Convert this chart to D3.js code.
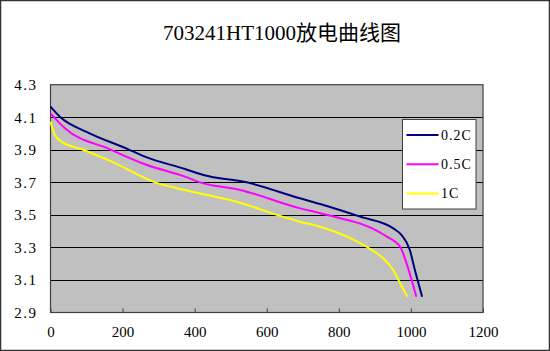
<!DOCTYPE html>
<html>
<head>
<meta charset="utf-8">
<script src="https://cdn.jsdelivr.net/npm/d3@7"></script>
<style>
  body { margin: 0; background: #fff; }
  svg text { fill: #000; }
</style>
</head>
<body>
<div id="chart"></div>
<script>
const title = "703241HT1000放电曲线图";
const seriesNames = ["0.2C", "0.5C", "1C"];
const seriesColors = ["#000080", "#ff00ff", "#ffff00"];

// capacity (mAh) / voltage (V)
const cap02 = [0, 26, 100, 216, 262, 373, 424, 544, 692, 748, 859, 951, 974, 997, 1011, 1021, 1031];
const volt02 = [4.165, 4.103, 4.01, 3.903, 3.858, 3.782, 3.745, 3.70, 3.602, 3.567, 3.489, 3.417, 3.376, 3.284, 3.161, 3.079, 2.997];
const cap05 = [0, 40, 165, 262, 373, 415, 526, 693, 748, 933, 970, 988, 1002, 1015];
const volt05 = [4.124, 4.032, 3.903, 3.811, 3.735, 3.70, 3.653, 3.54, 3.51, 3.366, 3.304, 3.202, 3.10, 2.997];
const cap1 = [0, 12, 31, 87, 170, 290, 373, 526, 628, 692, 748, 877, 923, 951, 970, 990];
const volt1 = [4.073, 3.991, 3.95, 3.903, 3.827, 3.70, 3.653, 3.575, 3.50, 3.458, 3.427, 3.304, 3.233, 3.161, 3.08, 2.997];

const xTicks = [0, 200, 400, 600, 800, 1000, 1200];
const yTicks = [2.9, 3.1, 3.3, 3.5, 3.7, 3.9, 4.1, 4.3];

const W = 550, H = 351;
const plot = {left: 50.5, right: 483, top: 84.7, bottom: 312.5};

const svg = d3.select("#chart").append("svg")
    .attr("width", W)
    .attr("height", H);

svg.append("rect")
    .attr("x", 0.5).attr("y", 0.5)
    .attr("width", W - 1).attr("height", H - 1)
    .attr("fill", "#fff")
    .attr("stroke", "#333")
    .attr("stroke-width", 1.5);

svg.append("text")
    .attr("x", 282)
    .attr("y", 40)
    .attr("text-anchor", "middle")
    .style("font-family", "'Liberation Serif', 'Noto Sans CJK SC', serif")
    .style("font-size", "21px")
    .text(title);

const x = d3.scaleLinear().domain([0, 1200]).range([plot.left, plot.right]);
const y = d3.scaleLinear().domain([2.9, 4.3]).range([plot.bottom, plot.top]);

svg.append("rect")
    .attr("x", plot.left).attr("y", plot.top)
    .attr("width", plot.right - plot.left)
    .attr("height", plot.bottom - plot.top)
    .attr("fill", "#c0c0c0");

// horizontal gridlines
svg.append("g")
    .selectAll("line")
    .data(yTicks.slice(1, -1))
    .join("line")
    .attr("x1", plot.left).attr("x2", plot.right)
    .attr("y1", d => Math.round(y(d)) + 0.5)
    .attr("y2", d => Math.round(y(d)) + 0.5)
    .attr("stroke", "#000")
    .attr("stroke-width", 1);

// plot frame
svg.append("rect")
    .attr("x", plot.left).attr("y", plot.top)
    .attr("width", plot.right - plot.left)
    .attr("height", plot.bottom - plot.top)
    .attr("fill", "none")
    .attr("stroke", "#404040")
    .attr("stroke-width", 1.2);

const labelFont = "'Liberation Serif', 'DejaVu Serif', serif";

// x axis
const xAxis = svg.append("g")
    .attr("transform", `translate(0,${plot.bottom})`)
    .call(d3.axisBottom(x).tickValues(xTicks).tickFormat(d3.format("d"))
        .tickSizeInner(-4).tickSizeOuter(0).tickPadding(14));
xAxis.select(".domain").remove();
xAxis.selectAll("line").attr("stroke", "#404040");
xAxis.selectAll("text")
    .style("font-family", labelFont)
    .style("font-size", "15px");

// y axis
const yAxis = svg.append("g")
    .attr("transform", `translate(${plot.left},0)`)
    .call(d3.axisLeft(y).tickValues(yTicks).tickFormat(d3.format(".1f")).tickSize(0).tickPadding(13));
yAxis.select(".domain").remove();
yAxis.selectAll("text")
    .style("font-family", labelFont)
    .style("font-size", "15px")
    .style("letter-spacing", "1.5px");

const series = [
    {name: seriesNames[0], color: seriesColors[0], values: cap02.map((c, i) => [c, volt02[i]])},
    {name: seriesNames[1], color: seriesColors[1], values: cap05.map((c, i) => [c, volt05[i]])},
    {name: seriesNames[2], color: seriesColors[2], values: cap1.map((c, i) => [c, volt1[i]])}
];

const line = d3.line()
    .x(d => x(d[0]))
    .y(d => y(d[1]))
    .curve(d3.curveMonotoneX);

svg.append("g")
    .selectAll("path")
    .data(series.slice().reverse())
    .join("path")
    .attr("d", d => line(d.values))
    .attr("fill", "none")
    .attr("stroke", d => d.color)
    .attr("stroke-width", 2);

// legend
const legend = svg.append("g").attr("transform", "translate(402.5,119.5)");
legend.append("rect")
    .attr("width", 73.5).attr("height", 89.5)
    .attr("fill", "#fff")
    .attr("stroke", "#404040")
    .attr("stroke-width", 1);

const item = legend.selectAll(".item")
    .data(series)
    .join("g")
    .attr("class", "item")
    .attr("transform", (d, i) => `translate(0,${15.5 + i * 29.2})`);
item.append("line")
    .attr("x1", 4).attr("x2", 36)
    .attr("stroke", d => d.color)
    .attr("stroke-width", 2);
item.append("text")
    .attr("x", 38.5)
    .attr("dy", "0.35em")
    .style("font-family", labelFont)
    .style("font-size", "14px")
    .style("letter-spacing", "1px")
    .text(d => d.name);
</script>
</body>
</html>
